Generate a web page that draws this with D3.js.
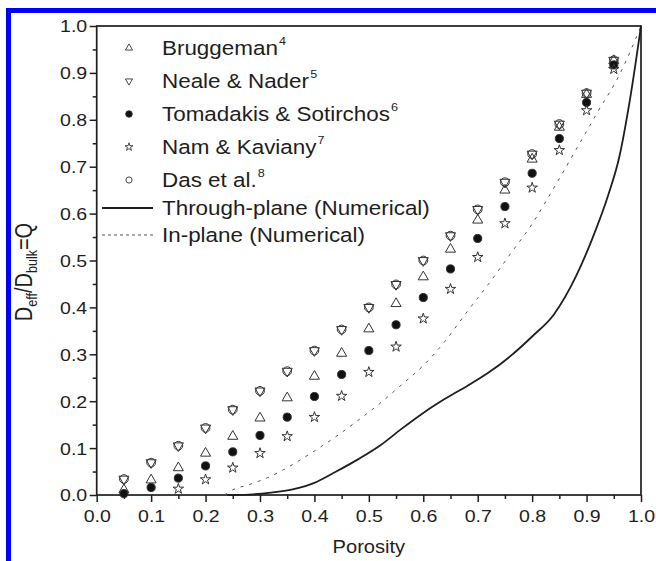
<!DOCTYPE html>
<html lang="en">
<head>
<meta charset="UTF-8">
<title>Effective diffusivity vs porosity</title>
<script src="https://d3js.org/d3.v7.min.js"></script>
<style>
  body { margin: 0; background: #fff; }
  svg { display: block; font-family: "Liberation Sans", Arial, sans-serif; }
</style>
</head>
<body>
<div id="chart"></div>
<script>
// values
const porosity   = [0.05, 0.10, 0.15, 0.20, 0.25, 0.30, 0.35, 0.40, 0.45, 0.50,
                    0.55, 0.60, 0.65, 0.70, 0.75, 0.80, 0.85, 0.90, 0.95];
const bruggeman  = [0.011, 0.032, 0.058, 0.089, 0.125, 0.164, 0.207, 0.253, 0.302, 0.354,
                    0.408, 0.465, 0.524, 0.586, 0.650, 0.716, 0.784, 0.854, 0.926];
const nealeNader = [0.034, 0.069, 0.105, 0.143, 0.182, 0.222, 0.264, 0.308, 0.353, 0.400,
                    0.449, 0.500, 0.553, 0.609, 0.667, 0.727, 0.791, 0.857, 0.927];
const tomadakis  = [0.003, 0.016, 0.036, 0.062, 0.092, 0.127, 0.166, 0.210, 0.257, 0.308,
                    0.363, 0.421, 0.482, 0.547, 0.615, 0.686, 0.760, 0.837, 0.917];
const namKaviany = [null, null, 0.013, 0.033, 0.058, 0.089, 0.125, 0.166, 0.211, 0.262,
                    0.316, 0.376, 0.439, 0.507, 0.579, 0.655, 0.735, 0.820, 0.908];
const dasEtAl    = [0.034, 0.069, 0.105, 0.143, 0.182, 0.222, 0.264, 0.308, 0.353, 0.400,
                    0.449, 0.500, 0.553, 0.609, 0.667, 0.727, 0.791, 0.857, 0.927];

const throughX = [0.24, 0.28, 0.32, 0.36, 0.40, 0.44, 0.48, 0.52, 0.56, 0.60, 0.64,
                  0.68, 0.72, 0.76, 0.80, 0.84, 0.88, 0.91, 0.94, 0.96, 0.98, 1.00];
const throughY = [0.000, 0.001, 0.005, 0.012, 0.026, 0.050, 0.076, 0.105, 0.141, 0.175, 0.205,
                  0.232, 0.261, 0.296, 0.338, 0.385, 0.465, 0.545, 0.640, 0.720, 0.845, 1.000];
const inPlaneX = [0.235, 0.25, 0.28, 0.32, 0.36, 0.40, 0.44, 0.48, 0.52, 0.56, 0.60,
                  0.64, 0.68, 0.72, 0.76, 0.80, 0.84, 0.88, 0.92, 0.96, 1.00];
const inPlaneY = [0.000, 0.011, 0.022, 0.040, 0.065, 0.094, 0.125, 0.159, 0.195, 0.235, 0.276,
                  0.328, 0.390, 0.450, 0.514, 0.578, 0.655, 0.735, 0.816, 0.895, 1.000];

const xTicks = [0, 0.1, 0.2, 0.3, 0.4, 0.5, 0.6, 0.7, 0.8, 0.9, 1.0];
const yTicks = [0, 0.1, 0.2, 0.3, 0.4, 0.5, 0.6, 0.7, 0.8, 0.9, 1.0];
const minorTicks = [0.05, 0.15, 0.25, 0.35, 0.45, 0.55, 0.65, 0.75, 0.85, 0.95];

const legendNames = ["Bruggeman", "Neale & Nader", "Tomadakis & Sotirchos", "Nam & Kaviany",
                     "Das et al.", "Through-plane (Numerical)", "In-plane (Numerical)"];
const legendRefs = ["4", "5", "6", "7", "8", "", ""];

const width = 656, height = 561;
const ink = "#1e1e1e";
const sx = 1.15;   // the figure is a bit wider than tall, text too

const svg = d3.select("#chart").append("svg")
    .attr("width", width)
    .attr("height", height);

// blue page border (top + left)
svg.append("rect").attr("x", 6).attr("y", 8).attr("width", width - 6).attr("height", 5).attr("fill", "#0000f2");
svg.append("rect").attr("x", 6).attr("y", 8).attr("width", 5).attr("height", height - 8).attr("fill", "#0000f2");

const x = d3.scaleLinear().domain([0, 1]).range([96.7, 641]);
const y = d3.scaleLinear().domain([0, 1]).range([495, 26]);

// axes
const fmt = d3.format(".1f");
const xAxis = svg.append("g").attr("transform", `translate(0,${y(0)})`)
    .call(d3.axisBottom(x).tickValues(xTicks).tickSize(7).tickSizeOuter(0).tickFormat(fmt));
svg.append("g").attr("transform", `translate(0,${y(0)})`)
    .call(d3.axisBottom(x).tickValues(minorTicks).tickSize(4).tickSizeOuter(0).tickFormat(""));
const yAxis = svg.append("g").attr("transform", `translate(${x(0)},0)`)
    .call(d3.axisLeft(y).tickValues(yTicks).tickSize(7).tickSizeOuter(0).tickFormat(fmt));
svg.append("g").attr("transform", `translate(${x(0)},0)`)
    .call(d3.axisLeft(y).tickValues(minorTicks).tickSize(4).tickSizeOuter(0).tickFormat(""));

svg.selectAll(".domain").remove();
svg.selectAll(".tick line").attr("stroke", ink).attr("stroke-width", 1.5);
xAxis.selectAll(".tick text")
    .attr("font-size", 17).attr("fill", ink).attr("font-family", null)
    .attr("y", 15).attr("dy", "0.71em")
    .attr("transform", `scale(${sx},1)`);
yAxis.selectAll(".tick text")
    .attr("font-size", 17).attr("fill", ink).attr("font-family", null)
    .attr("x", -9.5 / sx).attr("dy", "0.35em")
    .attr("transform", `scale(${sx},1)`);

// frame
svg.append("rect")
    .attr("x", x(0)).attr("y", y(1))
    .attr("width", x(1) - x(0)).attr("height", y(0) - y(1))
    .attr("fill", "none").attr("stroke", ink).attr("stroke-width", 1.7);

// axis titles
svg.append("text")
    .attr("transform", `translate(${(x(0) + x(1)) / 2},${553}) scale(${sx},1)`)
    .attr("text-anchor", "middle").attr("font-size", 17.5).attr("fill", ink)
    .text("Porosity");

const yTitle = svg.append("text")
    .attr("transform", `translate(32,272) rotate(-90) scale(1,${sx})`)
    .attr("text-anchor", "middle").attr("font-size", 20).attr("fill", ink);
yTitle.append("tspan").text("D");
yTitle.append("tspan").attr("font-size", 12.5).attr("dy", 4).text("eff");
yTitle.append("tspan").attr("dy", -4).text("/D");
yTitle.append("tspan").attr("font-size", 12.5).attr("dy", 4).text("bulk");
yTitle.append("tspan").attr("dy", -4).text("=Q");

// numerical curves
const line = d3.line().x(d => x(d[0])).y(d => y(d[1])).curve(d3.curveMonotoneX);
svg.append("path")
    .datum(inPlaneX.map((v, i) => [v, inPlaneY[i]]))
    .attr("d", line).attr("fill", "none")
    .attr("stroke", "#555").attr("stroke-width", 1).attr("stroke-dasharray", "3,6");
svg.append("path")
    .datum(throughX.map((v, i) => [v, throughY[i]]))
    .attr("d", line).attr("fill", "none")
    .attr("stroke", ink).attr("stroke-width", 1.8);

// markers
const triUp = d3.symbol().type(d3.symbolTriangle).size(44)();
const circ = d3.symbol().type(d3.symbolCircle).size(60)();
const dot = d3.symbol().type(d3.symbolCircle).size(52)();
const star = d3.symbol().type(d3.symbolStar).size(34)();

const series = [
    {vals: dasEtAl,    path: circ,  rot: 0,   fill: "none"},
    {vals: nealeNader, path: triUp, rot: 180, fill: "none"},
    {vals: bruggeman,  path: triUp, rot: 0,   fill: "none"},
    {vals: tomadakis,  path: dot,   rot: 0,   fill: "#111"},
    {vals: namKaviany, path: star,  rot: 0,   fill: "none"}
];

series.forEach(s => {
    svg.append("g").selectAll("path")
        .data(porosity.map((p, i) => [p, s.vals[i]]).filter(d => d[1] != null))
        .join("path")
        .attr("d", s.path)
        .attr("transform", d => `translate(${x(d[0])},${y(d[1])}) rotate(${s.rot})`)
        .attr("fill", s.fill)
        .attr("stroke", "#333")
        .attr("stroke-width", 1);
});

// legend
const rowY = [48, 81, 114, 147, 180, 208, 235];
const legend = svg.append("g");
const legendMarks = [
    {path: d3.symbol().type(d3.symbolTriangle).size(22)(), rot: 0, fill: "none"},
    {path: d3.symbol().type(d3.symbolTriangle).size(22)(), rot: 180, fill: "none"},
    {path: d3.symbol().type(d3.symbolCircle).size(34)(), rot: 0, fill: "#111"},
    {path: d3.symbol().type(d3.symbolStar).size(20)(), rot: 0, fill: "none"},
    {path: d3.symbol().type(d3.symbolCircle).size(30)(), rot: 0, fill: "none"}
];
legendMarks.forEach((m, i) => {
    legend.append("path")
        .attr("d", m.path)
        .attr("transform", `translate(129,${rowY[i]}) rotate(${m.rot})`)
        .attr("fill", m.fill).attr("stroke", "#333").attr("stroke-width", 0.9);
});
legend.append("line")
    .attr("x1", 102).attr("x2", 153).attr("y1", rowY[5]).attr("y2", rowY[5])
    .attr("stroke", ink).attr("stroke-width", 1.8);
legend.append("line")
    .attr("x1", 102).attr("x2", 153).attr("y1", rowY[6]).attr("y2", rowY[6])
    .attr("stroke", "#555").attr("stroke-width", 1).attr("stroke-dasharray", "3,3");

legendNames.forEach((name, i) => {
    const t = legend.append("text")
        .attr("transform", `translate(162,${rowY[i] + 7}) scale(${sx},1)`)
        .attr("font-size", 19.5).attr("fill", ink);
    t.append("tspan").text(name);
    if (legendRefs[i]) {
        t.append("tspan").attr("font-size", 11).attr("dx", 1).attr("dy", -10).text(legendRefs[i]);
    }
});
</script>
</body>
</html>
